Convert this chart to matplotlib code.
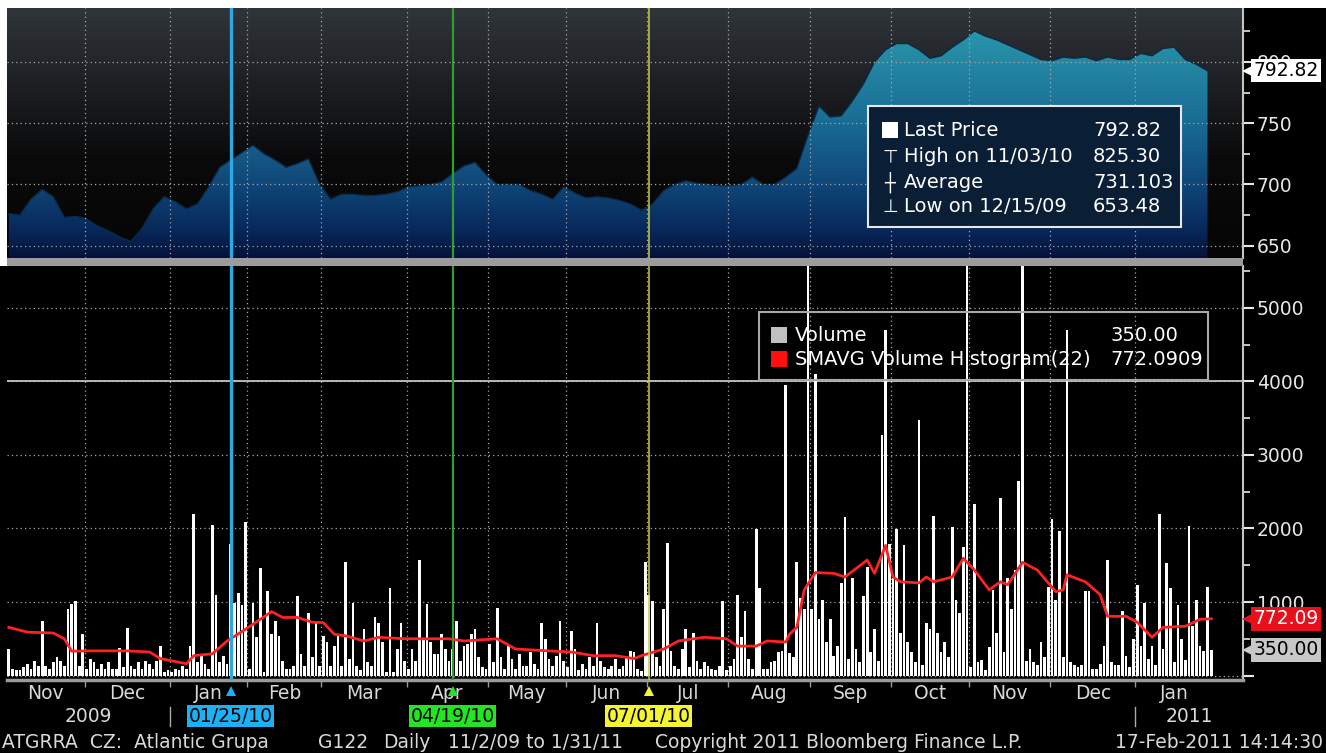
import numpy as np
import pandas as pd
import matplotlib
matplotlib.use('Agg')
import matplotlib.pyplot as plt
import matplotlib.transforms as mtransforms
from matplotlib.patches import Rectangle
from matplotlib.colors import LinearSegmentedColormap

plt.rcParams['font.family'] = ['DejaVu Sans']

# -------------------------------
# DATA
# -------------------------------

# daily volume, one list per month (trading days)
vol_nov09 = [360, 90, 70, 70, 110, 160, 90, 200, 135, 740, 135, 90, 180, 250, 200, 135, 900, 970, 1010, 135, 560]
vol_dec09 = [90, 225, 180, 90, 160, 90, 180, 90, 90, 380, 110, 640, 135, 90, 180, 90, 200, 160, 90, 200, 400, 45, 70]
vol_jan10 = [45, 90, 70, 135, 90, 400, 2200, 180, 270, 160, 90, 2050, 1100, 180, 270, 150, 1790, 990, 1125, 965, 2090]
vol_feb10 = [90, 990, 520, 1460, 45, 1150, 560, 740, 540, 200, 90, 90, 135, 1080, 290, 135, 855, 250, 740, 135]
vol_mar10 = [540, 450, 135, 405, 540, 135, 1550, 225, 990, 135, 70, 630, 180, 135, 790, 720, 450, 45, 1190, 45, 360, 720, 200]
vol_apr10 = [90, 360, 200, 1575, 495, 970, 450, 290, 290, 560, 360, 200, 360, 740, 200, 405, 430, 560, 630, 250, 110, 90]
vol_may10 = [430, 180, 920, 250, 90, 405, 225, 90, 290, 135, 135, 315, 160, 90, 720, 495, 225, 135, 270, 740, 200]
vol_jun10 = [110, 610, 360, 70, 160, 90, 250, 135, 720, 200, 110, 90, 135, 225, 90, 135, 250, 340, 315, 90, 60, 1550]
vol_jul10 = [1100, 1010, 250, 135, 900, 1800, 340, 135, 90, 360, 630, 110, 585, 200, 90, 180, 135, 90, 70, 135, 1010, 70]
vol_aug10 = [135, 225, 1100, 520, 880, 225, 90, 1990, 1190, 90, 90, 180, 200, 315, 340, 3950, 300, 250, 1540, 1060, 900, 5600]
vol_sep10 = [900, 4100, 765, 1030, 450, 765, 270, 405, 1255, 2150, 230, 1320, 360, 180, 1075, 1480, 315, 630, 200, 3270, 4700, 1790]
vol_oct10 = [1370, 1990, 585, 1770, 450, 315, 180, 3470, 140, 720, 630, 2170, 585, 315, 450, 250, 2015, 1030, 855, 1750, 6500]
vol_nov10 = [115, 2330, 180, 205, 70, 385, 1165, 585, 2420, 315, 1320, 900, 1435, 2640, 6000, 200, 360, 180, 140, 450, 250, 1210]
vol_dec10 = [2130, 1030, 1970, 250, 4700, 180, 140, 115, 140, 1145, 1145, 95, 95, 160, 405, 1570, 180, 140, 140, 875, 270, 120, 495]
vol_jan11 = [1235, 405, 990, 230, 405, 140, 2195, 360, 1525, 1190, 180, 965, 495, 205, 2040, 675, 1030, 405, 340, 1210, 350]

# last price, every 3rd trading day
price = [676, 675, 688, 696, 690, 673, 674, 672, 666, 662, 657, 653.48,
         664, 680, 690, 686, 680, 684, 698, 714, 720, 726, 732, 725, 720, 714, 717, 721, 700, 688, 692, 692, 691, 691,
         692, 694, 698, 699, 700, 702, 709, 715, 718, 708, 700, 700, 700, 695, 692, 688, 698, 693, 689, 690, 689, 687,
         684, 679, 684, 695, 700, 703, 701, 700, 699, 699, 700, 706, 700, 700, 706, 713, 740, 764, 755, 756, 768, 782,
         800, 810, 815, 815, 810, 803, 805, 812, 818, 825.3, 821, 818, 814, 810, 806, 802, 801, 804, 803, 804, 801, 804,
         802, 802, 807, 805, 811, 812, 802, 798, 792.82]

# 22-day SMA of volume (trading day number, value)
sma_day = [0, 5, 12, 15, 17, 21, 32, 38, 41, 48, 50, 55, 59, 64, 69, 71, 74, 78, 82, 85, 88, 91, 96, 100, 107,
           119, 123, 132, 137, 146, 152, 158, 164, 169, 171, 177, 181, 188, 194, 197, 202, 205, 210, 211, 213, 215,
           218, 223, 226, 232, 234, 237, 239, 241, 246, 248, 250, 255, 258, 261, 265, 268, 270, 274, 278, 283, 285,
           286, 291, 295, 297, 302, 305, 309, 312, 318, 322, 325]
sma_val = [655, 590, 578, 500, 330, 335, 335, 320, 230, 160, 270, 295, 470, 630, 800, 870, 790, 790, 725, 720, 560,
           540, 470, 520, 500, 500, 470, 500, 360, 335, 320, 270, 270, 230, 270, 360, 470, 520, 500, 400, 400, 470,
           455, 560, 655, 1165, 1400, 1390, 1340, 1570, 1390, 1770, 1340, 1275, 1260, 1340, 1275, 1340, 1595, 1435,
           1165, 1275, 1235, 1540, 1435, 1140, 1165, 1370, 1275, 1100, 805, 805, 725, 520, 655, 670, 765, 772.09]

events = ['2010-01-25', '2010-04-19', '2010-07-01']
event_labels = ['01/25/10', '04/19/10', '07/01/10']
event_line_colors = ['#2ea8e2', '#2f9e2f', '#cccc3a']
event_box_colors = ['#1cb0f4', '#22e622', '#f4f430']
event_widths = [2.4, 1.6, 1.1]

legend_price = [('Last Price', '792.82'), ('High on 11/03/10', '825.30'),
                ('Average', '731.103'), ('Low on 12/15/09', '653.48')]
legend_vol = [('Volume', '350.00'), ('SMAVG Volume Histogram(22)', '772.0909')]
footer_left = 'ATGRRA  CZ:  Atlantic Grupa'
footer_mid = ['G122', 'Daily', '11/2/09 to 1/31/11', 'Copyright 2011 Bloomberg Finance L.P.']
footer_time = '17-Feb-2011 14:14:30'

# -------------------------------
# PREP
# -------------------------------
days = pd.bdate_range('2009-11-02', '2011-01-31')
volume = np.array(vol_nov09 + vol_dec09 + vol_jan10 + vol_feb10 + vol_mar10 + vol_apr10 + vol_may10 +
                  vol_jun10 + vol_jul10 + vol_aug10 + vol_sep10 + vol_oct10 + vol_nov10 + vol_dec10 + vol_jan11)
pos = np.arange(len(days))
price_pos = np.arange(0, len(days), 3)[:len(price)]

starts = np.flatnonzero(np.r_[True, days.month[1:] != days.month[:-1]])
bounds = starts[1:] - 0.5
ends = np.r_[starts[1:], len(days)]
centers = (starts + ends - 1) / 2
month_names = [d.strftime('%b') for d in days[starts]]

W, H = 1326, 753
fig = plt.figure(figsize=(W / 100, H / 100), dpi=100)
fig.patch.set_facecolor('black')

xmin, xmax = -0.5, 333.6
p_lo, p_hi = 640, 844
v_lo, v_hi = -61, 5571

ax_p = fig.add_axes([7 / W, 1 - 258 / H, 1236 / W, 250 / H])
ax_v = fig.add_axes([7 / W, 1 - 680 / H, 1236 / W, 414 / H])

# white frame strip + panel separator
fig.patches.append(Rectangle((0, 1 - 8 / H), 1, 8 / H, transform=fig.transFigure, fc='white', ec='none', zorder=0))
fig.patches.append(Rectangle((0, 1 - 266 / H), 7 / W, 258 / H, transform=fig.transFigure, fc='white', ec='none'))
fig.patches.append(Rectangle((7 / W, 1 - 266 / H), 1236 / W, 8 / H, transform=fig.transFigure,
                             fc='#9c9c9c', ec='none', zorder=5))

grid_style = dict(color='#a8a8a8', linestyle=(0, (1, 2.5)), linewidth=0.9)

# ---- price panel ----
grad = np.linspace(0, 1, 256).reshape(-1, 1)
bg_cmap = LinearSegmentedColormap.from_list('bg', [(0, '#050505'), (0.4, '#0a0a0b'), (1, '#30353b')])
fill_cmap = LinearSegmentedColormap.from_list('fill', [(0, '#04123a'), (0.11, '#08285a'), (0.29, '#0f4678'),
                                                       (0.56, '#1a6e96'), (0.83, '#268ca5'), (1, '#2ea0b8')])
ax_p.imshow(grad, extent=[xmin, xmax, p_lo, p_hi], origin='lower', aspect='auto', cmap=bg_cmap, zorder=0)
area = ax_p.fill_between(price_pos, price, p_lo, facecolor='none', edgecolor='none')
im = ax_p.imshow(grad, extent=[xmin, xmax, p_lo, p_hi], origin='lower', aspect='auto', cmap=fill_cmap, zorder=1)
im.set_clip_path(area.get_paths()[0], transform=ax_p.transData)
ax_p.plot(price_pos, price, color='#0b2a46', lw=1.0, zorder=1.2)

ax_p.set_xlim(xmin, xmax)
ax_p.set_ylim(p_lo, p_hi)
ax_p.set_xticks(bounds)
ax_p.set_yticks([650, 700, 750, 800])
ax_p.set_yticks([675, 725, 775, 825], minor=True)
ax_p.grid(True, which='major', **grid_style)
ax_p.tick_params(axis='x', length=0, labelbottom=False)

# ---- volume panel ----
ax_v.set_facecolor('black')
ax_v.set_axisbelow(True)
ax_v.bar(pos, volume, width=0.74, color='white', linewidth=0, zorder=2)
ax_v.plot(sma_day, sma_val, color='#ff2020', lw=2.0, zorder=3)
ax_v.axhline(4000, color='#c4c4c4', lw=1.3, zorder=1)
ax_v.set_xlim(xmin, xmax)
ax_v.set_ylim(v_lo, v_hi)
ax_v.set_yticks([0, 1000, 2000, 3000, 4000, 5000], ['', '1000', '2000', '3000', '4000', '5000'])
ax_v.set_yticks([500, 1500, 2500, 3500, 4500, 5500], minor=True)
ax_v.set_xticks(bounds)
ax_v.set_xticks(centers, month_names, minor=True)
ax_v.grid(True, which='major', **grid_style)
ax_v.tick_params(axis='x', which='major', length=5, width=1, color='#9a9a9a', labelbottom=False)
ax_v.tick_params(axis='x', which='minor', length=0, pad=3, labelsize=13.5, labelcolor='#d8d8d8')

for ax in (ax_p, ax_v):
    ax.yaxis.tick_right()
    ax.tick_params(axis='y', which='major', length=8, width=1.5, colors='#e6e6e6', labelsize=13.5, pad=2)
    ax.tick_params(axis='y', which='minor', length=5, width=1.2, colors='#e6e6e6')
    for s in ('top', 'left'):
        ax.spines[s].set_visible(False)
    ax.spines['right'].set_color('#c4c4c4')
    ax.spines['right'].set_linewidth(1.5)
ax_p.spines['bottom'].set_visible(False)
ax_v.spines['bottom'].set_color('#9a9a9a')
ax_v.spines['bottom'].set_linewidth(2.5)


def price_tag(ax, value, text, fc, tc):
    tr = mtransforms.blended_transform_factory(ax.transAxes, ax.transData)
    ax.plot([1.0045], [value], marker='<', ms=10, mew=0, color=fc, transform=tr, clip_on=False, zorder=8)
    ax.text(1.0085, value, text, transform=tr, ha='left', va='center', fontsize=13.5, color=tc,
            bbox=dict(boxstyle='square,pad=0.12', fc=fc, ec='none'), clip_on=False, zorder=9)


price_tag(ax_p, price[-1], '792.82', 'white', 'black')
price_tag(ax_v, sma_val[-1], '772.09', '#e8101a', 'white')
price_tag(ax_v, volume[-1], '350.00', '#c8c8c8', 'black')

# ---- event lines ----
tr_v = mtransforms.blended_transform_factory(ax_v.transData, ax_v.transAxes)
for day, lab, lc, bc, lw in zip(events, event_labels, event_line_colors, event_box_colors, event_widths):
    x = days.searchsorted(pd.Timestamp(day))
    ax_p.axvline(x, color=lc, lw=lw, zorder=4)
    ax_v.axvline(x, color=lc, lw=lw, zorder=4)
    ax_v.plot([x], [-0.026], marker='^', ms=7, mew=0, color=bc, transform=tr_v, clip_on=False)
    ax_v.text(x, -0.088, lab, transform=tr_v, ha='center', va='center', fontsize=13.5, color='black',
              bbox=dict(boxstyle='square,pad=0.08', fc=bc, ec='none'), clip_on=False)

# ---- years ----
year_bounds = [43.5, 304.5]
for xb in year_bounds:
    ax_v.plot([xb, xb], [-0.065, -0.112], color='#aaaaaa', lw=1, transform=tr_v, clip_on=False)
ax_v.text((xmin + year_bounds[0]) / 2, -0.088, '2009', transform=tr_v, ha='center', va='center',
          fontsize=13.5, color='#d8d8d8')
ax_v.text((year_bounds[1] + xmax) / 2, -0.088, '2011', transform=tr_v, ha='center', va='center',
          fontsize=13.5, color='#d8d8d8')

# ---- legends ----
ax_p.add_patch(Rectangle((0.6966, 0.124), 0.2532, 0.484, transform=ax_p.transAxes,
                         fc='#0a1e36', ec='#e8e8e8', lw=1.5, zorder=6))
rows_p = [0.512, 0.404, 0.304, 0.204]
syms = ['', '\u22a4', '\u253c', '\u22a5']
for (lab, val), yy, sym in zip(legend_price, rows_p, syms):
    if sym:
        ax_p.text(0.7144, yy, sym, transform=ax_p.transAxes, ha='center', va='center',
                  fontsize=13, color='white', zorder=7)
    else:
        ax_p.plot([0.7144], [yy], marker='s', ms=11.5, mew=0, color='white', transform=ax_p.transAxes, zorder=7)
    ax_p.text(0.7257, yy, lab, transform=ax_p.transAxes, ha='left', va='center', fontsize=14,
              color='white', zorder=7)
    ax_p.text(0.8786, yy, val, transform=ax_p.transAxes, ha='left', va='center', fontsize=14,
              color='white', zorder=7)

ax_v.add_patch(Rectangle((0.6084, 0.725), 0.3633, 0.164, transform=ax_v.transAxes,
                         fc='none', ec='#a8a8a8', lw=1.5, zorder=6))
rows_v = [0.833, 0.775]
for (lab, val), yy, col in zip(legend_vol, rows_v, ['#c0c0c0', '#ff1010']):
    ax_v.plot([0.6246], [yy], marker='s', ms=11.5, mew=0, color=col, transform=ax_v.transAxes, zorder=7)
    ax_v.text(0.6375, yy, lab, transform=ax_v.transAxes, ha='left', va='center', fontsize=14,
              color='white', zorder=7)
    ax_v.text(0.8924, yy, val, transform=ax_v.transAxes, ha='left', va='center', fontsize=14,
              color='white', zorder=7)

# ---- footer ----
fy = 1 - 742 / H
fig.text(2 / W, fy, footer_left, ha='left', va='center', fontsize=13.5, color='#d8d8d8')
for txt, px in zip(footer_mid, [318, 383, 448, 655]):
    fig.text(px / W, fy, txt, ha='left', va='center', fontsize=13.5, color='#d8d8d8')
fig.text(1323 / W, fy, footer_time, ha='right', va='center', fontsize=13.5, color='#d8d8d8')

fig.savefig('out.png', dpi=100, facecolor=fig.get_facecolor())
